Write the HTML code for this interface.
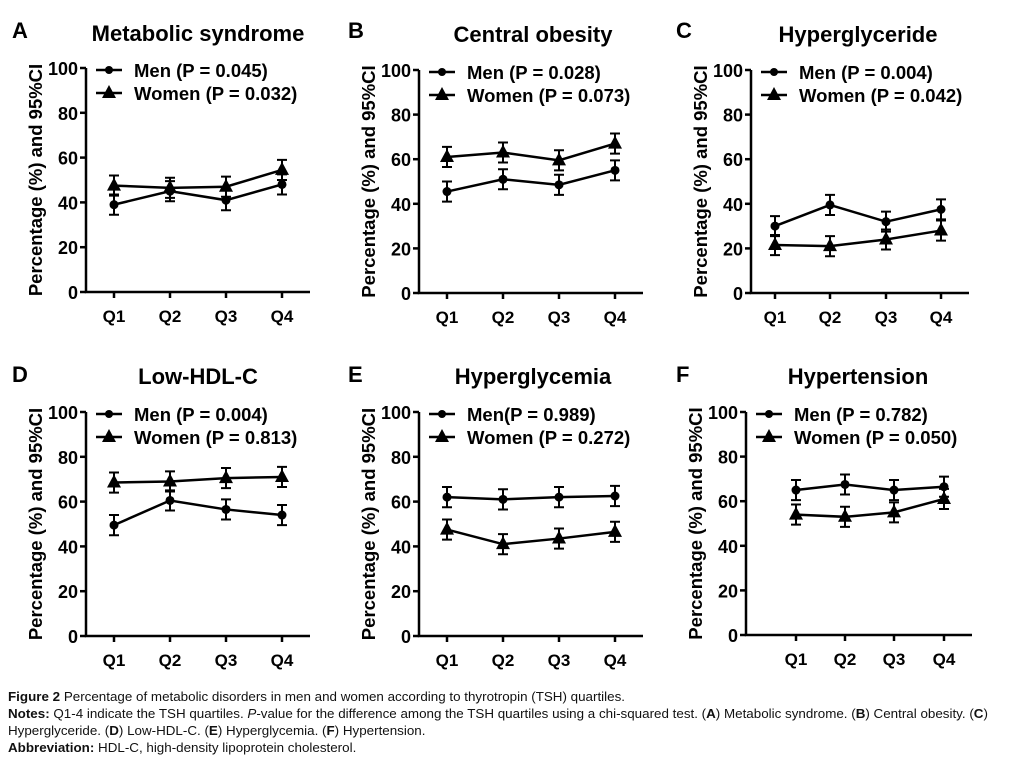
<!DOCTYPE html>
<html><head><meta charset="utf-8"><style>
body{margin:0;background:#fff;width:1012px;height:768px;overflow:hidden;font-family:"Liberation Sans",sans-serif}
#cap{position:absolute;left:8px;top:688px;font-size:13px;line-height:17px;color:#111;transform:scaleX(1.03);transform-origin:0 0;width:1000px;white-space:nowrap}
</style></head><body>
<svg id="s" width="1012" height="768" style="position:absolute;left:0;top:0" font-family="Liberation Sans, sans-serif" font-weight="bold"></svg>
<div id="cap"><b>Figure 2</b> Percentage of metabolic disorders in men and women according to thyrotropin (TSH) quartiles.<br>
<b>Notes:</b> Q1-4 indicate the TSH quartiles. <i>P</i>-value for the difference among the TSH quartiles using a chi-squared test. (<b>A</b>) Metabolic syndrome. (<b>B</b>) Central obesity. (<b>C</b>)<br>
Hyperglyceride. (<b>D</b>) Low-HDL-C. (<b>E</b>) Hyperglycemia. (<b>F</b>) Hypertension.<br>
<b>Abbreviation:</b> HDL-C, high-density lipoprotein cholesterol.</div>
<script>
var P=[
{L:"A",t:"Metabolic syndrome",ax:86,y1:68,y0:292,q:[114,170,226,282],m:[39,45,41,48],w:[47.5,46.5,47,54.5],lm:"Men (P = 0.045)",lw:"Women (P = 0.032)",tx:198,ty:41,Lx:12,Ly:38},
{L:"B",t:"Central obesity",ax:419,y1:70,y0:293,q:[447,503,559,615],m:[45.5,51,48.5,55],w:[61,63,59.5,67],lm:"Men (P = 0.028)",lw:"Women (P = 0.073)",tx:533,ty:42,Lx:348,Ly:38},
{L:"C",t:"Hyperglyceride",ax:751,y1:70,y0:293,q:[775,830,886,941],m:[30,39.5,32,37.5],w:[21.5,21,24,28],lm:"Men (P = 0.004)",lw:"Women (P = 0.042)",tx:858,ty:42,Lx:676,Ly:38},
{L:"D",t:"Low-HDL-C",ax:86,y1:412,y0:636,q:[114,170,226,282],m:[49.5,60.5,56.5,54],w:[68.5,69,70.5,71],lm:"Men (P = 0.004)",lw:"Women  (P = 0.813)",tx:198,ty:384,Lx:12,Ly:382},
{L:"E",t:"Hyperglycemia",ax:419,y1:412,y0:636,q:[447,503,559,615],m:[62,61,62,62.5],w:[47.5,41,43.5,46.5],lm:"Men(P = 0.989)",lw:"Women (P = 0.272)",tx:533,ty:384,Lx:348,Ly:382},
{L:"F",t:"Hypertension",ax:746,y1:412,y0:635,q:[796,845,894,944],m:[65,67.5,65,66.5],w:[54,53,55,61],lm:"Men (P = 0.782)",lw:"Women (P = 0.050)",tx:858,ty:384,Lx:676,Ly:382}];
var h="";
function T(x,y,s,sz,a,ex){h+='<text x="'+x+'" y="'+y+'" font-size="'+sz+'" text-anchor="'+(a||"start")+'" '+(ex||"")+'>'+s+'</text>';}
P.forEach(function(p){
 var Y=function(v){return p.y0-(p.y0-p.y1)*v/100};
 var xe=p.q[3]+28;
 h+='<path d="M'+p.ax+' '+p.y1+'V'+p.y0+'H'+xe+'" stroke="#000" stroke-width="2.5" fill="none"/>';
 for(var v=0;v<=100;v+=20){var y=Y(v);h+='<line x1="'+(p.ax-6)+'" x2="'+p.ax+'" y1="'+y+'" y2="'+y+'" stroke="#000" stroke-width="2.5"/>';T(p.ax-8,y+7,v,18,"end");}
 p.q.forEach(function(x,i){h+='<line x1="'+x+'" x2="'+x+'" y1="'+p.y0+'" y2="'+(p.y0+6)+'" stroke="#000" stroke-width="2.5"/>';T(x,p.y0+30,"Q"+(i+1),17,"middle");});
 T(p.ax-44,(p.y0+p.y1)/2,"Percentage (%) and 95%CI",18.5,"middle",'transform="rotate(-90 '+(p.ax-44)+' '+((p.y0+p.y1)/2)+')"');
 T(p.tx,p.ty,p.t,22,"middle");T(p.Lx,p.Ly,p.L,22,"start");
 [p.m,p.w].forEach(function(d,k){
  var pts=d.map(function(v,i){return p.q[i]+","+Y(v)}).join(" ");
  h+='<polyline points="'+pts+'" stroke="#000" stroke-width="2.5" fill="none"/>';
  d.forEach(function(v,i){var x=p.q[i],y=Y(v),e=(p.y0-p.y1)*4.5/100;
   h+='<path d="M'+x+' '+(y-e)+'V'+(y+e)+'M'+(x-5)+' '+(y-e)+'H'+(x+5)+'M'+(x-5)+' '+(y+e)+'H'+(x+5)+'" stroke="#000" stroke-width="2"/>';
   if(k==0)h+='<circle cx="'+x+'" cy="'+y+'" r="4.5"/>';else h+='<path d="M'+x+' '+(y-8)+'L'+(x+7)+' '+(y+5)+'H'+(x-7)+'Z"/>';});
 });
 var lx=p.ax+10,ly=p.y1+2;
 h+='<line x1="'+lx+'" x2="'+(lx+26)+'" y1="'+ly+'" y2="'+ly+'" stroke="#000" stroke-width="2.5"/><circle cx="'+(lx+13)+'" cy="'+ly+'" r="4"/>';
 T(lx+38,ly+7,p.lm,18.5);
 ly+=23;h+='<line x1="'+lx+'" x2="'+(lx+26)+'" y1="'+ly+'" y2="'+ly+'" stroke="#000" stroke-width="2.5"/><path d="M'+(lx+13)+' '+(ly-8)+'L'+(lx+20)+' '+(ly+5)+'H'+(lx+6)+'Z"/>';
 T(lx+38,ly+7,p.lw,18.5);
});
document.getElementById("s").innerHTML=h;
</script>
</body></html>
